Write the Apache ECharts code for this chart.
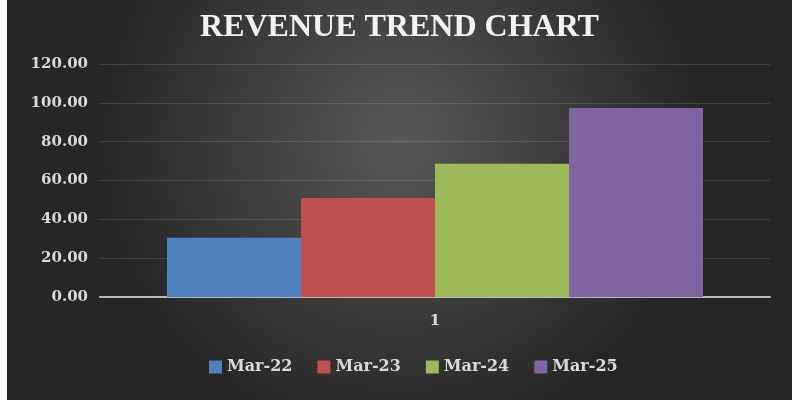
<!DOCTYPE html>
<html>
<head>
<meta charset="utf-8">
<script src="https://cdn.jsdelivr.net/npm/echarts@6/dist/echarts.min.js"></script>
<style>
  html, body { margin: 0; padding: 0; background: #ffffff; }
  #chart { position: absolute; left: 7px; top: 0; width: 785px; height: 400px; }
</style>
</head>
<body>
<div id="chart"></div>
<script>
const categories = ["1"];
const seriesNames = ["Mar-22", "Mar-23", "Mar-24", "Mar-25"];
const revenue = [30.5, 51, 68.6, 97.3];
const colors = ["#4f81bd", "#c0504d", "#9bbb59", "#8064a2"];

const chart = echarts.init(document.getElementById("chart"));
const serif = "'Liberation Serif', 'DejaVu Serif', serif";
const wideSerif = "'DejaVu Serif', serif";

const option = {
  animation: false,
  backgroundColor: {
    type: "radial",
    x: 0.5,
    y: 0.35,
    r: 0.75,
    colorStops: [
      { offset: 0, color: "#585858" },
      { offset: 1, color: "#262626" }
    ]
  },
  title: {
    text: "REVENUE TREND CHART",
    left: "center",
    top: 7,
    textStyle: {
      color: "#f2f2f2",
      fontFamily: serif,
      fontWeight: "bold",
      fontSize: 32
    }
  },
  legend: {
    bottom: 20,
    left: 197,
    itemWidth: 13,
    itemHeight: 13,
    itemGap: 25,
    icon: "rect",
    textStyle: {
      color: "#d9d9d9",
      fontFamily: wideSerif,
      fontWeight: "bold",
      fontSize: 16
    },
    data: seriesNames
  },
  grid: {
    left: 93,
    right: 22,
    top: 64,
    bottom: 103
  },
  xAxis: {
    type: "category",
    data: categories,
    axisTick: { show: false },
    axisLine: { lineStyle: { color: "#b8b8b8", width: 2 } },
    axisLabel: {
      color: "#d9d9d9",
      fontFamily: wideSerif,
      fontWeight: "bold",
      fontSize: 15,
      margin: 17
    }
  },
  yAxis: {
    type: "value",
    min: 0,
    max: 120,
    interval: 20,
    axisLabel: {
      color: "#d9d9d9",
      fontFamily: wideSerif,
      fontWeight: "bold",
      fontSize: 15,
      margin: 12,
      formatter: v => v.toFixed(2)
    },
    splitLine: { lineStyle: { color: "rgba(255,255,255,0.12)", width: 1 } }
  },
  series: seriesNames.map((name, i) => ({
    name: name,
    type: "bar",
    data: [revenue[i]],
    barGap: "0%",
    barCategoryGap: "20%",
    itemStyle: { color: colors[i] }
  }))
};

chart.setOption(option);
</script>
</body>
</html>
